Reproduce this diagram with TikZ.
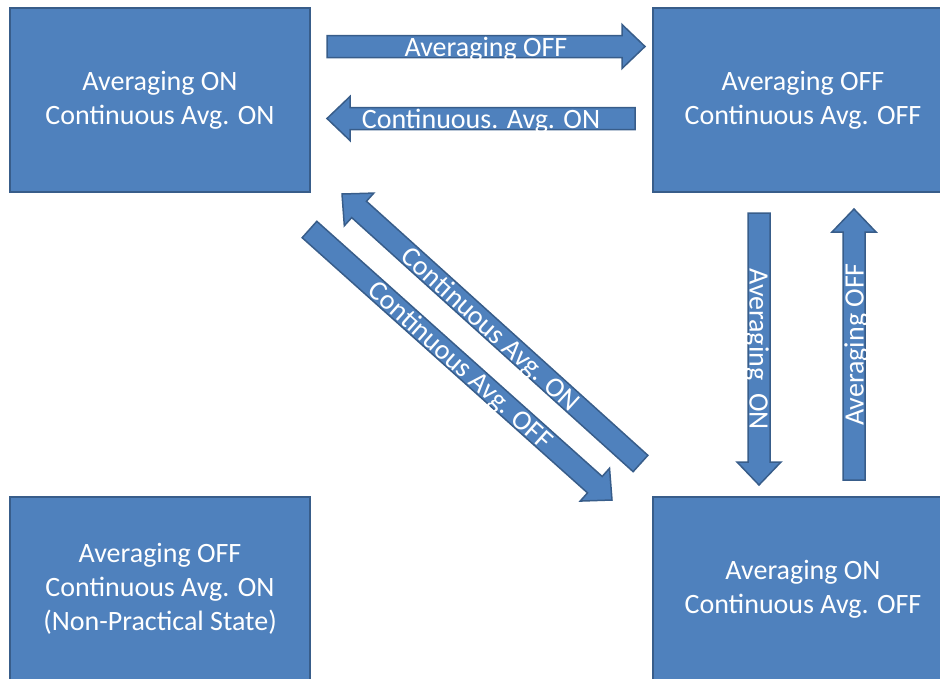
\documentclass[tikz,border=0pt]{standalone}
\usepackage{fontspec}
\setmainfont{Carlito}
\usetikzlibrary{calc}
\definecolor{boxfill}{HTML}{4F81BD}
\definecolor{boxline}{HTML}{385D8A}
\tikzset{
  state/.style={rectangle, fill=boxfill, draw=boxline, line width=2pt,
    minimum width=300pt, minimum height=184pt, inner sep=0pt,
    text=white, align=center, font=\fontsize{28}{34}\selectfont},
  barrow/.style={fill=boxfill, draw=boxline, line width=1.5pt, line join=miter},
  arrtext/.style={text=white, inner sep=0pt, font=\fontsize{28}{34}\selectfont}
}
\newcommand\blockarrow[5]{%
  \coordinate (#1-h) at ($(#3)!23pt!(#2)$);
  \draw[barrow] ($(#2)!11pt!90:(#3)$) -- ($(#1-h)!11pt!90:(#3)$) -- ($(#1-h)!22pt!90:(#3)$) -- (#3)
    -- ($(#1-h)!22pt!-90:(#3)$) -- ($(#1-h)!11pt!-90:(#3)$) -- ($(#2)!11pt!-90:(#3)$) -- cycle;
  \node[arrtext, rotate=#4, anchor=base] (#1-t) at ($($(#2)!0.5!(#3)$)+({#4-90}:9.5pt)$) {#5};
}
\begin{document}
\begin{tikzpicture}[x=1pt,y=1pt]
\useasboundingbox (0,0) rectangle (940,-678);
\clip (0,0) rectangle (940,-678);
% states
\node[state] (tl) at (160,-100) {Averaging ON\\Continuous Avg. ON};
\node[state] (tr) at (803,-100) {Averaging OFF\\Continuous Avg. OFF};
\node[state] (bl) at (160,-589) {Averaging OFF\\Continuous Avg. ON\\(Non-Practical State)};
\node[state] (br) at (803,-589) {Averaging ON\\Continuous Avg. OFF};
% arrow end points
\coordinate (a1s) at (327,-46.5);  \coordinate (a1e) at (645,-46.5);
\coordinate (a2s) at (635,-118.5); \coordinate (a2e) at (327,-118.5);
\coordinate (a3s) at (759,-213);   \coordinate (a3e) at (759,-485);
\coordinate (a4s) at (854,-480);   \coordinate (a4e) at (854,-209);
\coordinate (a5s) at (640.5,-463.5); \coordinate (a5e) at (342,-194);
\coordinate (a6s) at (309.5,-229.5); \coordinate (a6e) at (612,-500);
% transitions
\blockarrow{a1}{a1s}{a1e}{0}{Averaging OFF}
\blockarrow{a2}{a2s}{a2e}{0}{Continuous. Avg. ON}
\blockarrow{a3}{a3s}{a3e}{-90}{Averaging\ \ ON}
\blockarrow{a4}{a4s}{a4e}{90}{Averaging OFF}
\blockarrow{a5}{a5s}{a5e}{-42.1}{Continuous Avg. ON}
\blockarrow{a6}{a6s}{a6e}{-41.8}{Continuous Avg. OFF}
\end{tikzpicture}
\end{document}
